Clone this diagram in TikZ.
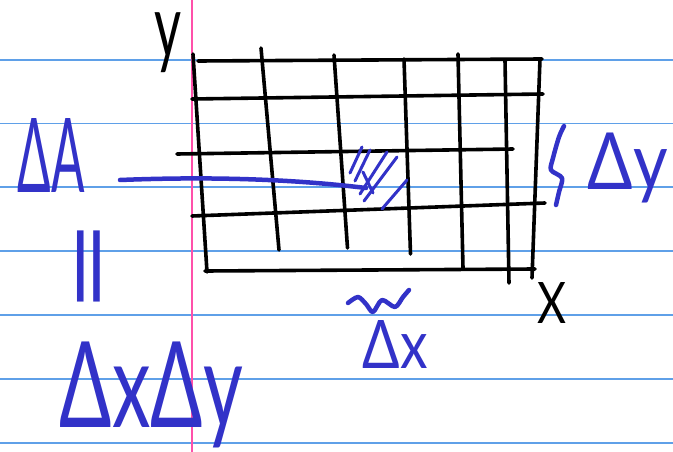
\documentclass[tikz,border=0pt]{standalone}
\usepackage{fontspec}
\setmainfont{Lato}
\usepackage{graphicx}
\usetikzlibrary{positioning}
\definecolor{inkblue}{RGB}{50,50,200}
\definecolor{ruleblue}{RGB}{95,160,232}
\definecolor{marginpink}{RGB}{255,80,170}

\begin{document}
\begin{tikzpicture}[
  x=1pt, y=-1pt,
  ruled/.style={ruleblue, line width=1.3pt},
  margin/.style={marginpink, line width=1.3pt},
  gridpen/.style={black, line width=3.6pt, line cap=round},
  inkpen/.style={draw=inkblue, line width=4.5pt, line cap=round, line join=round},
  hand/.style={inner sep=0pt, outer sep=0pt},
]
\useasboundingbox[fill=white] (0,0) rectangle (673,452);

% ruled paper
\foreach \ly in {60,123.5,187,251,315,379,443}
  \draw[ruled] (0,\ly) -- (673,\ly);
\draw[margin] (192,0) -- (192,452);

% grid
\foreach \ax/\ay/\bx/\by in {198/61/542/59, 192/99/543/94, 177/154/513/149,
                             192/216/545/203, 205/271/535/269}
  \draw[gridpen] (\ax,\ay) -- (\bx,\by);
\foreach \ax/\ay/\bx/\by in {193/54/207/272, 261/48/279/250, 334/55/347.5/248,
                             404/59/410.5/254, 458/54/463/268, 505/60/509/283,
                             540/59/532/278}
  \draw[gridpen] (\ax,\ay) -- (\bx,\by);

% axis letters
\node[hand] (yaxis) at (168,43) {\resizebox*{27pt}{60pt}{y}};
\node[hand] (xaxis) at (552.5,302.5) {\resizebox*{29pt}{41pt}{X}};

% handwriting
\node[hand, inkblue] (dA) at (51.5,155) {\resizebox*{67pt}{74pt}{ΔA}};
\node[hand, inkblue] (equal) at (99,266.5) {\resizebox*{44pt}{96pt}{\rotatebox{90}{=}}};
\node[hand, inkblue] (dxdy) at (151.5,395) {\resizebox*{183pt}{106pt}{ΔxΔy}};
\node[hand, inkblue] (dy) at (628,168) {\resizebox*{80pt}{70pt}{Δy}};
\node[hand, inkblue] (dx) at (395.5,344) {\resizebox*{65pt}{48pt}{Δx}};

% braces
\draw[inkpen] plot[smooth] coordinates {(564,126) (559,137) (553,158) (551,170)
                                        (562,178) (559,192) (556,205)};
\draw[inkpen] plot[smooth] coordinates {(348,303) (358,297) (366,304) (373,312)
                                        (382,300) (395,307) (403,297) (409,290)};

% shaded cell
\foreach \ax/\ay/\bx/\by in {350/173/362/147, 355/181/370/150, 360/194/387/152,
                             364/201/397/157, 382/209/407/180, 363/172/373/193}
  \draw[inkpen, line width=3pt] (\ax,\ay) -- (\bx,\by);

% pointer from the label to the cell
\coordinate (tail) at (120,180);
\coordinate (cell) at (366,188);
\draw[inkpen] (tail) .. controls (220,176) and (300,180) .. (cell);

\end{tikzpicture}
\end{document}
